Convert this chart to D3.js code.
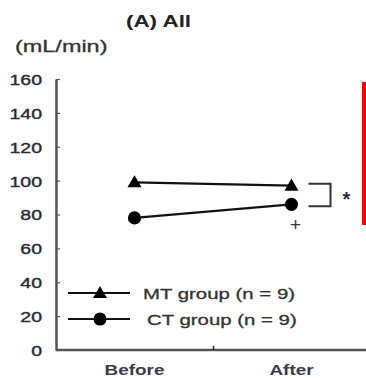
<!DOCTYPE html>
<html>
<head>
<meta charset="utf-8">
<script src="https://cdn.jsdelivr.net/npm/d3@7"></script>
<style>
  body { margin: 0; background: #fff; }
  text { font-family: "Liberation Sans", Arial, sans-serif; fill: #222; }
</style>
</head>
<body>
<div id="chart"></div>
<script>
// Data
const phases = ["Before", "After"];
const mtValues = [99, 97];
const ctValues = [78, 86];
const yTicks = [0, 20, 40, 60, 80, 100, 120, 140, 160];
const seriesNames = ["MT group (n = 9)", "CT group (n = 9)"];

const W = 366, H = 378;
const SX = 1.3; // the source picture is stretched sideways

const svg = d3.select("#chart")
  .append("svg")
  .attr("width", W)
  .attr("height", H);

// Scales
const x = d3.scalePoint()
  .domain(phases)
  .range([56, 370])
  .padding(0.5);

const xMid = d3.scaleLinear().domain([0, 2]).range([56, 370]);

const y = d3.scaleLinear()
  .domain([0, 160])
  .range([350, 79]);

// Y axis
const yAxis = svg.append("g")
  .attr("transform", "translate(56,0)")
  .call(d3.axisLeft(y).tickValues(yTicks).tickSize(-4).tickSizeOuter(0));
yAxis.select(".domain").attr("stroke", "#555").attr("stroke-width", 2.5);
yAxis.selectAll(".tick line").attr("stroke", "#555").attr("stroke-width", 1.2);
yAxis.selectAll(".tick text")
  .attr("x", 0)
  .attr("dy", "0.36em")
  .attr("transform", `translate(-14,0) scale(${SX},1)`)
  .style("font-size", "15px")
  .style("fill", "#2a2a3a")
  .style("stroke", "#2a2a3a")
  .style("stroke-width", 0.4);

// X axis
const xAxis = svg.append("g")
  .attr("transform", "translate(0,350)")
  .call(d3.axisBottom(xMid).tickValues([1]).tickSize(-4).tickSizeOuter(0).tickFormat(""));
xAxis.select(".domain").attr("stroke", "#555").attr("stroke-width", 2.5)
  .attr("d", "M56,0H366");
xAxis.selectAll(".tick line").attr("stroke", "#222").attr("stroke-width", 1.5);

svg.selectAll("text.xlabel")
  .data(phases)
  .join("text")
  .attr("class", "xlabel")
  .attr("transform", d => `translate(${x(d)},375) scale(1.35,1)`)
  .attr("text-anchor", "middle")
  .style("font-size", "14px")
  .style("font-weight", "bold")
  .style("fill", "#3a3a4a")
  .text(d => d);

// Title and unit
svg.append("text")
  .attr("transform", `translate(126,27) scale(1.4,1)`)
  .style("font-size", "16px")
  .style("font-weight", "bold")
  .text("(A) All");

svg.append("text")
  .attr("transform", `translate(15,52) scale(1.38,1)`)
  .style("font-size", "17px")
  .style("fill", "#333")
  .style("stroke", "#333")
  .style("stroke-width", 0.3)
  .text("(mL/min)");

// Lines
const line = d3.line()
  .x((d, i) => x(phases[i]))
  .y(d => y(d));

const triangle = d3.symbol().type(d3.symbolTriangle).size(85);
const circle = d3.symbol().type(d3.symbolCircle).size(135);

[mtValues, ctValues].forEach(vals => {
  svg.append("path")
    .datum(vals)
    .attr("d", line)
    .attr("fill", "none")
    .attr("stroke", "#111")
    .attr("stroke-width", 2.3);
});

svg.selectAll("path.mt")
  .data(mtValues)
  .join("path")
  .attr("class", "mt")
  .attr("d", triangle)
  .attr("transform", (d, i) => `translate(${x(phases[i])},${y(d) + 1})`)
  .attr("fill", "#000");

svg.selectAll("path.ct")
  .data(ctValues)
  .join("path")
  .attr("class", "ct")
  .attr("d", circle)
  .attr("transform", (d, i) => `translate(${x(phases[i])},${y(d)})`)
  .attr("fill", "#000");

// Significance bracket between groups after
const bx0 = x("After") + 17, bx1 = x("After") + 39;
svg.append("path")
  .attr("d", `M${bx0},${y(mtValues[1]) - 2}H${bx1}V${y(ctValues[1]) + 2}H${bx0}`)
  .attr("fill", "none")
  .attr("stroke", "#333")
  .attr("stroke-width", 2);

svg.append("text")
  .attr("x", bx1 + 16)
  .attr("y", (y(mtValues[1]) + y(ctValues[1])) / 2 + 11)
  .attr("text-anchor", "middle")
  .style("font-size", "20px")
  .style("font-weight", "bold")
  .style("fill", "#2a2a40")
  .text("*");

svg.append("text")
  .attr("x", x("After") + 4)
  .attr("y", y(ctValues[1]) + 27)
  .attr("text-anchor", "middle")
  .style("font-size", "19px")
  .style("fill", "#3a3030")
  .text("+");

// Legend
const legend = svg.append("g");
const legendY = [293, 319];
const markers = [triangle, circle];

seriesNames.forEach((name, i) => {
  legend.append("line")
    .attr("x1", 68).attr("x2", 130)
    .attr("y1", legendY[i]).attr("y2", legendY[i])
    .attr("stroke", "#111")
    .attr("stroke-width", 2);
  legend.append("path")
    .attr("d", markers[i])
    .attr("transform", `translate(100,${legendY[i] + (i === 0 ? 1 : 0)})`)
    .attr("fill", "#000");
  legend.append("text")
    .attr("transform", `translate(${i === 0 ? 143 : 147},${legendY[i] + 6}) scale(1.36,1)`)
    .style("font-size", "15px")
    .style("fill", "#333")
    .style("stroke", "#333")
    .style("stroke-width", 0.3)
    .text(name);
});

// Red edge bar at right
svg.append("rect")
  .attr("x", 362)
  .attr("y", 82)
  .attr("width", 4)
  .attr("height", 143)
  .attr("fill", "#ff0000");
</script>
</body>
</html>
